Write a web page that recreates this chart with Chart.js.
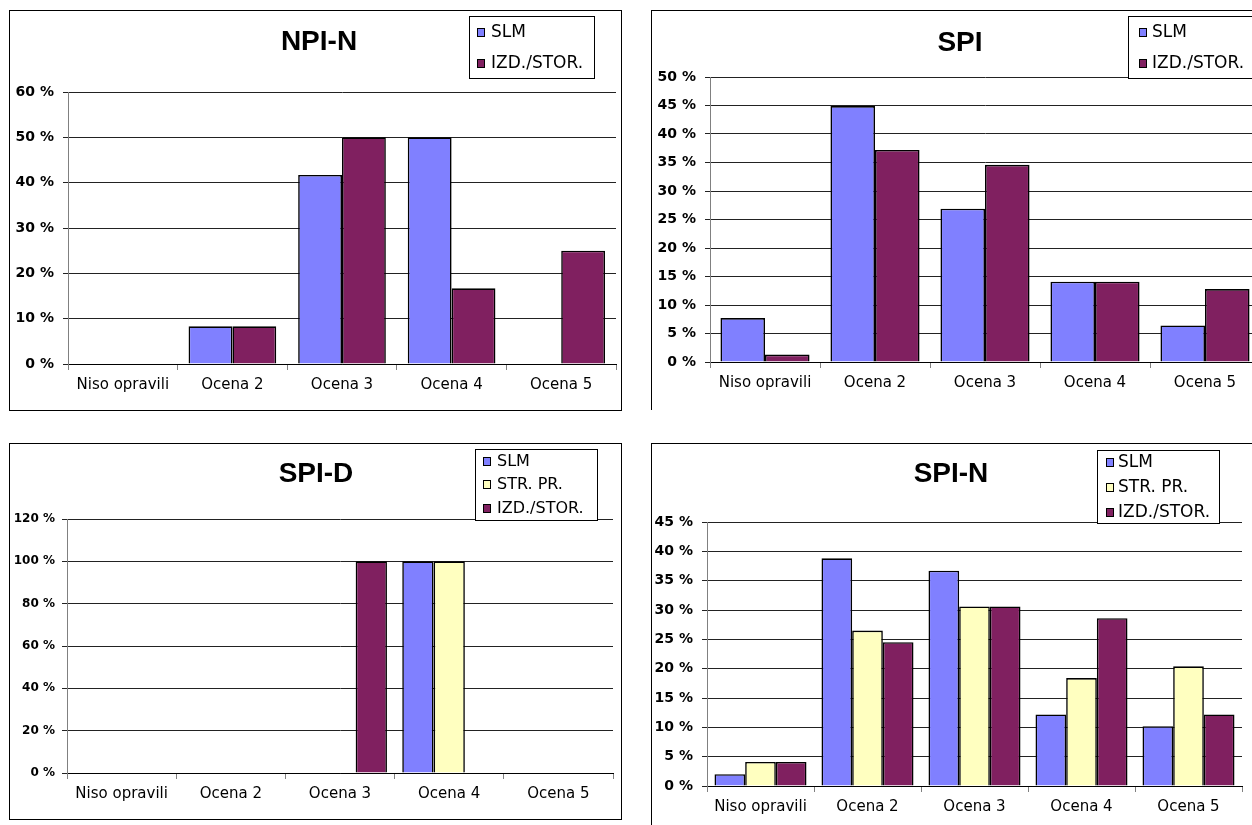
<!DOCTYPE html>
<html>
<head>
<meta charset="utf-8">
<script src="https://cdn.jsdelivr.net/npm/chart.js@4.4.1/dist/chart.umd.min.js"></script>
<style>
html, body { margin: 0; padding: 0; background: #fff; overflow: hidden; width: 1252px; height: 825px; }
.frame { position: absolute; box-sizing: border-box; border: 1px solid #000; pointer-events: none; }
canvas { position: absolute; }
</style>
</head>
<body>
<script>
// podatki
const categories = ['Niso opravili', 'Ocena 2', 'Ocena 3', 'Ocena 4', 'Ocena 5'];

const npinSlm = [0, 8.3, 41.7, 50, 0];
const npinIzd = [0, 8.3, 50, 16.7, 25];

const spiSlm = [7.7, 44.9, 26.9, 14.1, 6.4];
const spiIzd = [1.3, 37.2, 34.6, 14.1, 12.8];

const spidSlm = [0, 0, 0, 100, 0];
const spidStr = [0, 0, 0, 100, 0];
const spidIzd = [0, 0, 100, 0, 0];

const spinSlm = [2.0, 38.8, 36.7, 12.2, 10.2];
const spinStr = [4.1, 26.5, 30.6, 18.4, 20.4];
const spinIzd = [4.1, 24.5, 30.6, 28.6, 12.2];

const COL_SLM = '#8080FF';
const COL_STR = '#FFFFC0';
const COL_IZD = '#802060';

// naslov in legenda v okvirju (kot v Excelu)
const boxLegend = {
    id: 'boxLegend',
    afterDraw(chart, args, o) {
        const ctx = chart.ctx;
        ctx.save();
        // naslov
        ctx.fillStyle = '#000';
        ctx.font = 'bold 28px "Liberation Sans", Arial, sans-serif';
        ctx.textAlign = 'center';
        ctx.textBaseline = 'middle';
        ctx.fillText(o.title, o.titleX - o.ox, o.titleY - o.oy);

        // legenda
        const x = o.x - o.ox, y = o.y - o.oy;
        ctx.textAlign = 'left';
        ctx.fillStyle = '#fff';
        ctx.fillRect(x, y, o.w, o.h);
        ctx.strokeStyle = '#000';
        ctx.lineWidth = 1;
        ctx.strokeRect(x + 0.5, y + 0.5, o.w - 1, o.h - 1);
        ctx.font = o.font;
        chart.data.datasets.forEach((ds, i) => {
            const cy = o.rows[i] - o.oy;
            const mx = o.mx - o.ox;
            ctx.fillStyle = ds.backgroundColor;
            ctx.fillRect(mx, cy - 4, 8, 9);
            ctx.strokeRect(mx + 0.5, cy - 3.5, 7, 8);
            ctx.fillStyle = '#000';
            ctx.fillText(ds.label, o.tx - o.ox, cy + 1);
        });
        ctx.restore();
    }
};

function makeChart(cfg) {
    const b = cfg.box, p = cfg.plot;

    const frame = document.createElement('div');
    frame.className = 'frame';
    frame.style.left = b.x + 'px';
    frame.style.top = b.y + 'px';
    frame.style.width = b.w + 'px';
    frame.style.height = b.h + 'px';
    if (cfg.openSides) cfg.openSides.forEach(s => frame.style['border' + s] = 'none');

    const canvas = document.createElement('canvas');
    canvas.width = b.w;
    canvas.height = b.h;
    canvas.style.left = b.x + 'px';
    canvas.style.top = b.y + 'px';
    canvas.style.width = b.w + 'px';
    canvas.style.height = b.h + 'px';
    document.body.appendChild(canvas);
    document.body.appendChild(frame);

    const padRight = b.x + b.w - p.r;
    const padTop = p.t - b.y;
    const yWidth = p.l - b.x;
    const xHeight = b.y + b.h - p.b;
    const yFont = cfg.yFont || { size: 14, weight: 'bold', pad: 9 };

    return new Chart(canvas, {
        type: 'bar',
        data: {
            labels: categories,
            datasets: cfg.series.map(s => ({
                label: s.label,
                data: s.data,
                backgroundColor: s.color,
                borderColor: '#000',
                borderWidth: 1.6,
                categoryPercentage: cfg.catPct,
                barPercentage: 1
            }))
        },
        options: {
            responsive: false,
            animation: false,
            layout: { padding: { left: 0, right: padRight, top: padTop, bottom: 0 } },
            plugins: {
                legend: { display: false },
                tooltip: { enabled: false },
                title: { display: false },
                boxLegend: Object.assign({
                    ox: b.x, oy: b.y, title: cfg.title, titleX: cfg.titleX, titleY: cfg.titleY
                }, cfg.legend)
            },
            scales: {
                x: {
                    grid: { offset: true, drawOnChartArea: false, drawTicks: true, tickLength: 6, color: '#808080' },
                    border: { display: true, color: '#000', width: 1 },
                    ticks: {
                        color: '#000',
                        padding: 6,
                        maxRotation: 0,
                        font: { family: '"DejaVu Sans", sans-serif', size: 15 }
                    },
                    afterFit: (scale) => { scale.height = xHeight; }
                },
                y: {
                    min: 0,
                    max: cfg.yMax,
                    grid: { color: '#222', lineWidth: 1, drawTicks: true, tickLength: 5 },
                    border: { display: true, color: '#808080', width: 1 },
                    ticks: {
                        stepSize: cfg.yStep,
                        color: '#000',
                        padding: yFont.pad,
                        font: { family: '"DejaVu Sans", sans-serif', size: yFont.size, weight: yFont.weight },
                        callback: (v) => v + ' %'
                    },
                    afterFit: (scale) => { scale.width = yWidth; }
                }
            }
        },
        plugins: [boxLegend]
    });
}

makeChart({
    title: 'NPI-N',
    box: { x: 9, y: 10, w: 613, h: 401 },
    plot: { l: 68, t: 92, r: 616, b: 364 },
    titleX: 319, titleY: 42.5,
    yMax: 60, yStep: 10,
    catPct: 0.8,
    series: [
        { label: 'SLM', data: npinSlm, color: COL_SLM },
        { label: 'IZD./STOR.', data: npinIzd, color: COL_IZD }
    ],
    legend: { x: 469, y: 16, w: 126, h: 63, rows: [32, 63], mx: 477, tx: 491, font: '17px "DejaVu Sans", sans-serif' }
});

makeChart({
    title: 'SPI',
    box: { x: 651, y: 10, w: 619, h: 400 },
    plot: { l: 710, t: 77, r: 1260, b: 362 },
    titleX: 960, titleY: 43,
    yMax: 50, yStep: 5,
    catPct: 0.81,
    openSides: ['Bottom', 'Right'],
    series: [
        { label: 'SLM', data: spiSlm, color: COL_SLM },
        { label: 'IZD./STOR.', data: spiIzd, color: COL_IZD }
    ],
    legend: { x: 1128, y: 16, w: 132, h: 63, rows: [32, 63], mx: 1139, tx: 1152, font: '17px "DejaVu Sans", sans-serif' }
});

makeChart({
    title: 'SPI-D',
    box: { x: 9, y: 443, w: 613, h: 377 },
    plot: { l: 67, t: 519, r: 613, b: 773 },
    titleX: 316, titleY: 474,
    yMax: 120, yStep: 20,
    catPct: 0.86,
    yFont: { size: 12, weight: 'bold', pad: 7 },
    series: [
        { label: 'SLM', data: spidSlm, color: COL_SLM },
        { label: 'STR. PR.', data: spidStr, color: COL_STR },
        { label: 'IZD./STOR.', data: spidIzd, color: COL_IZD }
    ],
    legend: { x: 475, y: 449, w: 123, h: 72, rows: [461, 484, 508], mx: 483, tx: 497, font: '16px "DejaVu Sans", sans-serif' }
});

makeChart({
    title: 'SPI-N',
    box: { x: 651, y: 443, w: 601, h: 392 },
    plot: { l: 707, t: 522, r: 1242, b: 786 },
    titleX: 951, titleY: 474,
    yMax: 45, yStep: 5,
    catPct: 0.86,
    openSides: ['Bottom', 'Right'],
    series: [
        { label: 'SLM', data: spinSlm, color: COL_SLM },
        { label: 'STR. PR.', data: spinStr, color: COL_STR },
        { label: 'IZD./STOR.', data: spinIzd, color: COL_IZD }
    ],
    legend: { x: 1097, y: 450, w: 123, h: 74, rows: [462, 487, 512], mx: 1106, tx: 1118, font: '17px "DejaVu Sans", sans-serif' }
});
</script>
</body>
</html>
